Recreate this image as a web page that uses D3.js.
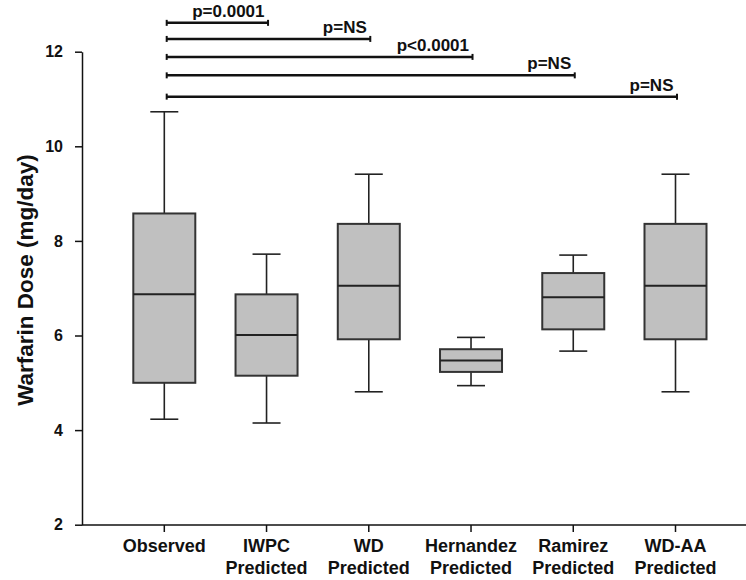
<!DOCTYPE html>
<html>
<head>
<meta charset="utf-8">
<script src="https://cdn.jsdelivr.net/npm/d3@7"></script>
<style>
  body { margin: 0; background: #fff; }
  svg text { font-family: Arial, "Liberation Sans", sans-serif; font-weight: bold; fill: #111; }
</style>
</head>
<body>
<div id="chart"></div>
<script>

// data
var categories = ["Observed", "IWPC Predicted", "WD Predicted", "Hernandez Predicted", "Ramirez Predicted", "WD-AA Predicted"]
var whiskerLow = [4.23, 4.15, 4.81, 4.94, 5.67, 4.81]
var q1 =         [5.00, 5.15, 5.92, 5.23, 6.13, 5.92]
var median =     [6.87, 6.01, 7.05, 5.47, 6.81, 7.05]
var q3 =         [8.58, 6.87, 8.36, 5.71, 7.32, 8.36]
var whiskerHigh = [10.73, 7.72, 9.41, 5.96, 7.70, 9.41]

var yTicks = [2, 4, 6, 8, 10, 12]

// comparisons vs Observed: target category, label, bracket level (dose units)
var compTargets = ["IWPC Predicted", "WD Predicted", "Hernandez Predicted", "Ramirez Predicted", "WD-AA Predicted"]
var compLabels = ["p=0.0001", "p=NS", "p<0.0001", "p=NS", "p=NS"]
var compLevels = [12.61, 12.27, 11.89, 11.50, 11.05]

var width = 746, height = 580
var axisX = 82, axisY = 525

var svg = d3.select("#chart").append("svg")
  .attr("width", width)
  .attr("height", height)

var y = d3.scaleLinear().domain([2, 12]).range([524.7, 51.7])
var x = d3.scalePoint().domain(categories).range([164.3, 675.5])

var boxW = 62, capW = 28

//Y AXIS
var yAxis = svg.append("g")
  .attr("transform", "translate(" + axisX + ",0)")
  .call(d3.axisLeft(y).tickValues(yTicks).tickSize(7).tickSizeOuter(0).tickPadding(12))
yAxis.select(".domain").attr("stroke", "#111").attr("stroke-width", 1.5)
yAxis.selectAll(".tick line").attr("stroke", "#111").attr("stroke-width", 1.5)
yAxis.selectAll(".tick text")
  .style("font-size", "16px")
  .style("font-family", "Arial, 'Liberation Sans', sans-serif")
  .style("font-weight", "bold")
  .attr("fill", "#111")

svg.append("text")
  .attr("transform", "translate(33,280) rotate(-90)")
  .attr("text-anchor", "middle")
  .style("font-size", "22.5px")
  .text("Warfarin Dose (mg/day)")

//X AXIS
svg.append("line")
  .attr("x1", axisX).attr("x2", width)
  .attr("y1", axisY).attr("y2", axisY)
  .attr("stroke", "#111").attr("stroke-width", 1.5)

var xTick = svg.selectAll(".xtick")
  .data(categories)
  .enter().append("g")
  .attr("class", "xtick")
  .attr("transform", function(d){ return "translate(" + x(d) + "," + axisY + ")" })

xTick.append("line")
  .attr("y1", 0).attr("y2", 7)
  .attr("stroke", "#111").attr("stroke-width", 1.5)

xTick.append("text")
  .attr("text-anchor", "middle")
  .style("font-size", "18px")
  .each(function(d){
    var parts = d.split(" ")
    var t = d3.select(this)
    parts.forEach(function(p, i){
      t.append("tspan").attr("x", 0).attr("y", 27 + i*21.6).text(p)
    })
  })

//BOXES
var box = svg.selectAll(".box")
  .data(categories)
  .enter().append("g")
  .attr("class", "box")
  .attr("transform", function(d){ return "translate(" + x(d) + ",0)" })

// whisker stems
box.append("line")
  .attr("y1", function(d, i){ return y(whiskerHigh[i]) })
  .attr("y2", function(d, i){ return y(q3[i]) })
  .attr("stroke", "#222").attr("stroke-width", 1.6)
box.append("line")
  .attr("y1", function(d, i){ return y(q1[i]) })
  .attr("y2", function(d, i){ return y(whiskerLow[i]) })
  .attr("stroke", "#222").attr("stroke-width", 1.6)

// caps
box.append("line")
  .attr("x1", -capW/2).attr("x2", capW/2)
  .attr("y1", function(d, i){ return y(whiskerHigh[i]) })
  .attr("y2", function(d, i){ return y(whiskerHigh[i]) })
  .attr("stroke", "#222").attr("stroke-width", 1.6)
box.append("line")
  .attr("x1", -capW/2).attr("x2", capW/2)
  .attr("y1", function(d, i){ return y(whiskerLow[i]) })
  .attr("y2", function(d, i){ return y(whiskerLow[i]) })
  .attr("stroke", "#222").attr("stroke-width", 1.6)

box.append("rect")
  .attr("x", -boxW/2)
  .attr("width", boxW)
  .attr("y", function(d, i){ return y(q3[i]) })
  .attr("height", function(d, i){ return y(q1[i]) - y(q3[i]) })
  .attr("fill", "#c0c0c0")
  .attr("stroke", "#333").attr("stroke-width", 2)

box.append("line")
  .attr("x1", -boxW/2).attr("x2", boxW/2)
  .attr("y1", function(d, i){ return y(median[i]) })
  .attr("y2", function(d, i){ return y(median[i]) })
  .attr("stroke", "#222").attr("stroke-width", 2)

//SIGNIFICANCE BRACKETS
var startX = x(categories[0]) + 2.4
var comp = svg.selectAll(".comp")
  .data(compTargets)
  .enter().append("g")
  .attr("class", "comp")

comp.append("line")
  .attr("x1", startX)
  .attr("x2", function(d){ return x(d) + 1.5 })
  .attr("y1", function(d, i){ return y(compLevels[i]) })
  .attr("y2", function(d, i){ return y(compLevels[i]) })
  .attr("stroke", "#111").attr("stroke-width", 2.5)
comp.append("line")
  .attr("x1", startX).attr("x2", startX)
  .attr("y1", function(d, i){ return y(compLevels[i]) - 3 })
  .attr("y2", function(d, i){ return y(compLevels[i]) + 3 })
  .attr("stroke", "#111").attr("stroke-width", 2)
comp.append("line")
  .attr("x1", function(d){ return x(d) + 1.5 })
  .attr("x2", function(d){ return x(d) + 1.5 })
  .attr("y1", function(d, i){ return y(compLevels[i]) - 3 })
  .attr("y2", function(d, i){ return y(compLevels[i]) + 3 })
  .attr("stroke", "#111").attr("stroke-width", 2)

comp.append("text")
  .attr("x", function(d){ return x(d) - 2 })
  .attr("y", function(d, i){ return y(compLevels[i]) - 6 })
  .attr("text-anchor", "end")
  .style("font-size", "17px")
  .text(function(d, i){ return compLabels[i] })

</script>
</body>
</html>
